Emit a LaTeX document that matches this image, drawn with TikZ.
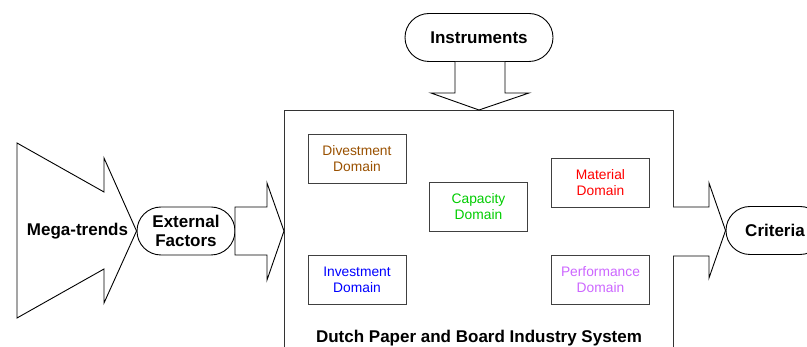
\documentclass[tikz,border=0pt]{standalone}
\usepackage{fontspec}
\setmainfont{Liberation Sans}
\usetikzlibrary{shapes,arrows,positioning,calc}

\definecolor{divcolor}{RGB}{153,80,0}
\definecolor{capcolor}{RGB}{0,204,0}
\definecolor{matcolor}{RGB}{255,0,0}
\definecolor{invcolor}{RGB}{0,0,255}
\definecolor{perfcolor}{RGB}{204,102,255}

\tikzset{domain node/.style={rectangle,draw=black!75,minimum width=98pt,minimum height=49pt,inner sep=0pt,align=center,font=\fontsize{13.8}{16}\selectfont},
  term node/.style={rectangle,rounded corners=24pt,draw,minimum height=48pt,inner sep=0pt,align=center,font=\fontsize{17}{18.5}\bfseries\selectfont},
  block arrow/.style={draw,fill=white,line join=miter},
}

\begin{document}
\begin{tikzpicture}[x=1pt,y=-1pt,line width=0.9pt]
\useasboundingbox (0,0) rectangle (807,347);
\clip (0,0) rectangle (807,347);

% the industry system and its domains
\node[draw=black!80,minimum width=389pt,minimum height=250pt,inner sep=0pt,anchor=north west] (sys) at (284,110) {};
\node[font=\fontsize{17}{18.5}\bfseries\selectfont,anchor=base] (title) at (479,343) {Dutch Paper and Board Industry System};

\node[domain node,text=divcolor] (div) at (357,158.5) {Divestment\\Domain};
\node[domain node,text=capcolor] (cap) at (478.5,206.5) {Capacity\\Domain};
\node[domain node,text=matcolor] (mat) at (600.5,182.5) {Material\\Domain};
\node[domain node,text=invcolor] (inv) at (357,280) {Investment\\Domain};
\node[domain node,text=perfcolor] (perf) at (600.5,280) {Performance\\Domain};

% terminals
\node[term node,minimum width=148pt] (instr) at (479,37.5) {Instruments};
\node[term node,minimum width=98pt] (ext) at (186,231) {External\\Factors};
\node[term node,minimum width=98pt] (crit) at (775,230.5) {Criteria};

% block arrows
\draw[block arrow] (17,143) -- (104,192) -- (104,158) -- (ext.west)
  -- (104,303) -- (104,269) -- (17,318) -- cycle;
\draw[block arrow] (235,207) -- (267,207) -- (267,183) -- (sys.west |- ext)
  -- (267,280) -- (267,255) -- (235,255) -- cycle;
\draw[block arrow] (455,62) -- (455,93) -- (431,93) -- (sys.north -| instr)
  -- (529,93) -- (505,93) -- (505,62);
\draw[block arrow] (673,207) -- (709,207) -- (709,183) -- (crit.west)
  -- (709,278) -- (709,256) -- (673,256);

\node[font=\fontsize{17}{18.5}\bfseries\selectfont] (mega) at (77.5,231) {Mega-trends};
\end{tikzpicture}
\end{document}
